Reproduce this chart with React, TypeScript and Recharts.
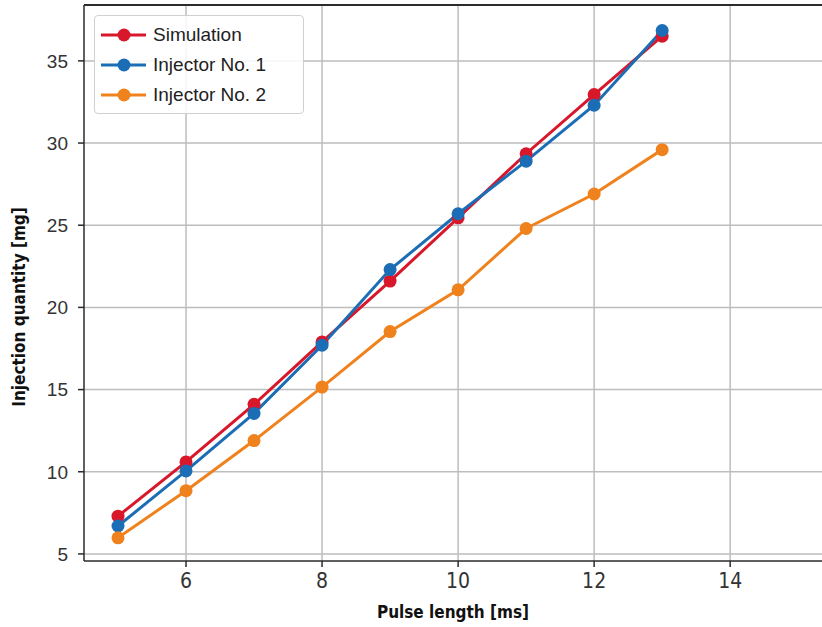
// Injection quantity vs pulse length — three measured/simulated series

import { LineChart, Line, XAxis, YAxis, CartesianGrid, Legend, ReferenceLine } from "recharts";

const pulseLength = [5, 6, 7, 8, 9, 10, 11, 12, 13];
const simulation = [7.3, 10.6, 14.1, 17.9, 21.6, 25.45, 29.35, 32.95, 36.5];
const injector1 = [6.7, 10.05, 13.55, 17.7, 22.3, 25.7, 28.9, 32.3, 36.85];
const injector2 = [5.98, 8.85, 11.9, 15.15, 18.53, 21.07, 24.8, 26.9, 29.6];

const xTicks = [6, 8, 10, 12, 14];
const yTicks = [5, 10, 15, 20, 25, 30, 35];
const xDomain = [4.5, 15.35];
const yDomain = [4.57, 38.4];

const series = [
  { key: "sim", name: "Simulation", color: "#d8172b", values: simulation },
  { key: "inj1", name: "Injector No. 1", color: "#1b6db5", values: injector1 },
  { key: "inj2", name: "Injector No. 2", color: "#f0821e", values: injector2 },
];

const data = pulseLength.map((x, i) => ({
  x,
  sim: simulation[i],
  inj1: injector1[i],
  inj2: injector2[i],
}));

const narrow = "'DejaVu Sans Condensed', 'Liberation Sans Narrow', sans-serif";

function LegendBox() {
  return (
    <div
      style={{
        width: 210,
        height: 99,
        border: "1px solid #d0d0d0",
        borderRadius: 4,
        background: "rgba(255,255,255,0.85)",
        boxSizing: "border-box",
        paddingTop: 4,
      }}
    >
      {series.map((s) => (
        <div key={s.key} style={{ display: "flex", alignItems: "center", height: 30 }}>
          <svg width={58} height={20} style={{ marginLeft: 6 }}>
            <line x1={0} y1={10} x2={45} y2={10} stroke={s.color} strokeWidth={3} />
            <circle cx={23} cy={10} r={6.5} fill={s.color} />
          </svg>
          <span
            style={{
              fontFamily: "'Liberation Sans', Arial, sans-serif",
              fontSize: 19,
              color: "#222",
              marginLeft: -6,
            }}
          >
            {s.name}
          </span>
        </div>
      ))}
    </div>
  );
}

function YLabel() {
  return (
    <text
      x={19}
      y={307}
      transform="rotate(-90 19 307)"
      textAnchor="middle"
      dominantBaseline="central"
      fontFamily={narrow}
      fontWeight="bold"
      fontSize={17}
      fill="#111"
    >
      Injection quantity [mg]
    </text>
  );
}

export default function App() {
  return (
    <div style={{ position: "absolute", left: 0, top: 0, background: "#fff" }}>
      <LineChart width={822} height={627} data={data} margin={{ top: 5, right: 0, bottom: 0, left: 0 }}>
        <CartesianGrid stroke="#bdbdbd" strokeWidth={1.5} horizontalValues={yTicks} verticalValues={xTicks} />
        <XAxis
          dataKey="x"
          type="number"
          domain={xDomain}
          ticks={xTicks}
          allowDataOverflow
          height={66}
          axisLine={{ stroke: "#2b2b2b", strokeWidth: 1.5 }}
          tickLine={{ stroke: "#2b2b2b", strokeWidth: 1.5 }}
          tickSize={6}
          tickMargin={6}
          tick={{ fontSize: 21, fill: "#333", fontFamily: narrow }}
          label={{
            value: "Pulse length [ms]",
            position: "insideBottom",
            offset: 9,
            fontSize: 17,
            fontWeight: "bold",
            fill: "#111",
            fontFamily: narrow,
          }}
        />
        <YAxis
          type="number"
          domain={yDomain}
          ticks={yTicks}
          allowDataOverflow
          width={84}
          axisLine={{ stroke: "#2b2b2b", strokeWidth: 1.5 }}
          tickLine={{ stroke: "#2b2b2b", strokeWidth: 1.5 }}
          tickSize={6}
          tickMargin={10}
          tick={{ fontSize: 19, fill: "#333", fontFamily: "'Liberation Sans', Arial, sans-serif" }}
          label={<YLabel />}
        />
        <ReferenceLine y={yDomain[1]} stroke="#2b2b2b" strokeWidth={2} ifOverflow="visible" />
        <Legend
          layout="vertical"
          verticalAlign="middle"
          align="center"
          content={<LegendBox />}
          wrapperStyle={{ left: 94, top: 15, width: 210 }}
        />
        {series.map((s) => (
          <Line
            key={s.key}
            dataKey={s.key}
            name={s.name}
            stroke={s.color}
            strokeWidth={3}
            dot={{ r: 6.5, fill: s.color, stroke: s.color, strokeWidth: 0 }}
            activeDot={false}
            isAnimationActive={false}
          />
        ))}
      </LineChart>
    </div>
  );
}
